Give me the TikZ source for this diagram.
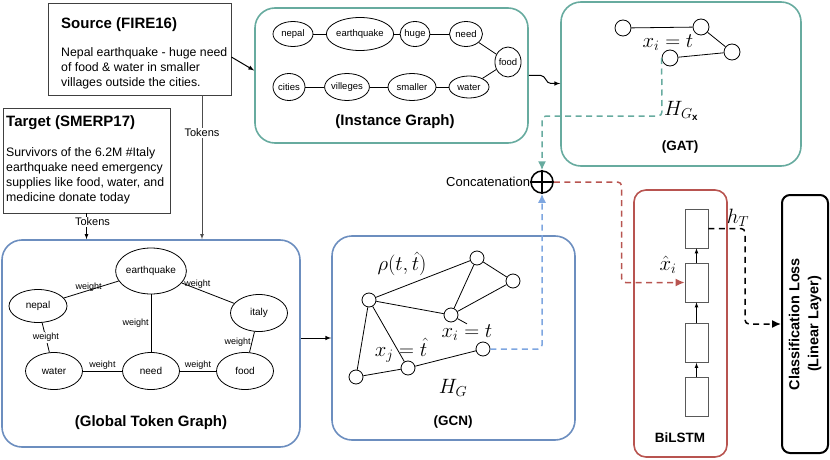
\documentclass[tikz,border=0pt]{standalone}
\usepackage{fontspec}
\setmainfont{Liberation Sans}
\usetikzlibrary{shapes.geometric,arrows.meta}
\definecolor{gatgreen}{HTML}{67AB9F}
\definecolor{gcnblue}{HTML}{6C8EBF}
\definecolor{lightblue}{HTML}{7EA6E0}
\definecolor{lstmred}{HTML}{B85450}
\newcommand{\fsz}[1]{\fontsize{#1}{1.2\dimexpr#1pt\relax}\selectfont}
\tikzset{
    panel/.style={draw,rounded corners=20pt,line width=1.6pt,inner sep=0},
    textbox/.style={draw=black!75,line width=0.8pt,inner sep=0},
    bodytext/.style={font=\fontsize{12.3}{15}\selectfont,align=left,inner sep=0,anchor=west},
    titletext/.style={font=\fsz{15}\bfseries,inner sep=0},
    subtitle/.style={font=\fsz{13.5}\bfseries,inner sep=0},
    tok/.style={ellipse,draw,inner sep=0,line width=0.8pt,font=\fsz{10}},
    inst/.style={ellipse,draw,inner sep=0,line width=0.8pt,font=\fsz{9.5}},
    gnode/.style={circle,draw,inner sep=0,minimum size=14pt,line width=0.8pt,fill=white},
    cell/.style={draw=black!65,line width=0.8pt,inner sep=0,minimum width=23pt,minimum height=39pt},
    wlabel/.style={font=\fsz{9},inner sep=1pt},
    mathlabel/.style={font=\fsz{19.5},inner sep=1pt},
    dashlink/.style={line width=1.5pt,dash pattern=on 6pt off 4.5pt,rounded corners=4pt,-{Latex[length=9pt,width=8pt]}},
}
\begin{document}
\begin{tikzpicture}[x=1pt,y=-1pt,>=latex]
    \useasboundingbox (0,0) rectangle (830,460);

    % input texts
    \node[textbox,minimum width=183pt,minimum height=92pt] (src) at (139.5,49) {};
    \node[titletext,anchor=west] (srctitle) at (61,25) {Source (FIRE16)};
    \node[bodytext] (srcbody) at (61,68) {Nepal earthquake - huge need\\of food \& water in smaller\\villages outside the cities.};
    \node[textbox,minimum width=167pt,minimum height=105pt] (tgt) at (86.5,160.5) {};
    \node[titletext,anchor=west] (tgttitle) at (6,123) {Target (SMERP17)};
    \node[bodytext] (tgtbody) at (6,175.5) {Survivors of the 6.2M \#Italy\\earthquake need emergency\\supplies like food, water, and\\medicine donate today};

    % panels
    \node[panel,draw=gatgreen,minimum width=273pt,minimum height=135pt] (inst) at (391.5,75.5) {};
    \node[panel,draw=gatgreen,minimum width=240pt,minimum height=164pt] (gat) at (681,84) {};
    \node[panel,draw=gcnblue,minimum width=298pt,minimum height=207pt] (glob) at (151,343.5) {};
    \node[panel,draw=gcnblue,minimum width=243pt,minimum height=204pt] (gcn) at (453.5,338) {};
    \node[panel,draw=lstmred,rounded corners=12pt,minimum width=93pt,minimum height=267pt] (lstm) at (680.5,323.5) {};
    \node[draw,line width=2pt,rounded corners=8pt,minimum width=46pt,minimum height=258pt] (cls) at (805,324) {};
    \node[rotate=90,align=center,font=\fontsize{14.5}{19}\selectfont\bfseries] (clstext) at (cls) {Classification Loss\\(Linear Layer)};

    % instance graph
    \node[inst,minimum width=40pt,minimum height=25pt] (inepal) at (293,34) {nepal};
    \node[inst,minimum width=55pt,minimum height=33pt] (iearthquake) at (360,34) {earthquake};
    \node[inst,minimum width=27pt,minimum height=25pt] (ihuge) at (415,34) {huge};
    \node[inst,minimum width=33pt,minimum height=25pt] (ineed) at (466,34) {need};
    \node[inst,minimum width=25pt,minimum height=30pt] (ifood) at (508,62) {food};
    \node[inst,minimum width=40pt,minimum height=22pt] (iwater) at (469,87) {water};
    \node[inst,minimum width=48pt,minimum height=27pt] (ismaller) at (412,87) {smaller};
    \node[inst,minimum width=40pt,minimum height=27pt] (ivilleges) at (347,87) {villeges};
    \node[inst,minimum width=32pt,minimum height=27pt] (icities) at (289,87) {cities};
    \foreach \a/\b in {nepal/earthquake,earthquake/huge,huge/need,need/food,food/water,water/smaller,smaller/villeges,villeges/cities}
        \draw[line width=0.8pt] (i\a) -- (i\b);
    \node[titletext] (insttitle) at (395,122) {(Instance Graph)};

    % global token graph
    \node[tok,minimum width=68pt,minimum height=46pt] (gearthquake) at (151,271) {earthquake};
    \node[tok,minimum width=58pt,minimum height=33pt] (gnepal) at (38,306) {nepal};
    \node[tok,minimum width=57pt,minimum height=37pt] (gitaly) at (259,313) {italy};
    \node[tok,minimum width=57pt,minimum height=37pt] (gwater) at (54,371) {water};
    \node[tok,minimum width=57pt,minimum height=37pt] (gneed) at (151,371) {need};
    \node[tok,minimum width=57pt,minimum height=37pt] (gfood) at (245,371) {food};
    \draw[line width=0.8pt] (gnepal) -- node[wlabel,pos=.45,above=-2pt] {weight} (gearthquake);
    \draw[line width=0.8pt] (gearthquake) -- node[wlabel,pos=.3,above=-1pt] {weight} (gitaly);
    \draw[line width=0.8pt] (gearthquake) -- node[wlabel,midway,left=1pt] {weight} (gneed);
    \draw[line width=0.8pt] (gnepal) -- node[wlabel,midway,fill=white] {weight} (gwater);
    \draw[line width=0.8pt] (gitaly) -- node[wlabel,midway,left=0pt] {weight} (gfood);
    \draw[line width=0.8pt] (gwater) -- node[wlabel,midway,above] {weight} (gneed);
    \draw[line width=0.8pt] (gneed) -- node[wlabel,midway,above] {weight} (gfood);
    \node[titletext] (globtitle) at (151,423) {(Global Token Graph)};

    % GCN
    \node[gnode] (ga) at (369,300) {};
    \node[gnode] (gb) at (477,258) {};
    \node[gnode] (gc) at (513,281) {};
    \node[gnode] (gd) at (451,315) {};
    \node[gnode] (ge) at (483,349) {};
    \node[gnode] (gf) at (408,368) {};
    \node[gnode] (gg) at (356,377) {};
    \node[mathlabel] (rho) at (402,264) {$\rho(t,\hat{t})$};
    \node[mathlabel] (xi) at (467,333) {$x_i=t$};
    \node[mathlabel] (xj) at (401,350) {$x_j=\hat{t}$};
    \foreach \a/\b in {ga/gb,ga/gd,ga/gg,ga/gf,gb/gd,gb/gc,gc/gd,gg/gf,gf/ge}
        \draw[line width=0.8pt] (\a) -- (\b);
    \draw[line width=0.8pt] (gd) -- (xi.north);
    \node[mathlabel] (hg) at (453,388) {$H_G$};
    \node[subtitle] (gcntitle) at (453,422) {(GCN)};

    % GAT
    \node[gnode,minimum size=16pt] (ap) at (623,28) {};
    \node[gnode,minimum size=16pt] (aq) at (701,27) {};
    \node[gnode,minimum size=16pt] (ar) at (732,52) {};
    \node[gnode,minimum size=16pt] (as) at (670,58) {};
    \draw[line width=0.8pt] (ap) -- (aq) -- (ar) -- (as);
    \node[mathlabel] (gxi) at (668,43) {$x_i=t$};
    \node[subtitle] (gattitle) at (680,147) {(GAT)};

    % BiLSTM
    \node[cell] (c1) at (696.5,228.5) {};
    \node[cell] (c2) at (696.5,282.5) {};
    \node[cell] (c3) at (696.5,343) {};
    \node[cell] (c4) at (696.5,397) {};
    \draw[->,line width=0.7pt] (c4) -- (c3);
    \draw[->,line width=0.7pt] (c3) -- (c2);
    \draw[->,line width=0.7pt] (c2) -- (c1);
    \node[mathlabel] (xhat) at (668,265) {$\hat{x}_i$};
    \node[subtitle] (lstmtitle) at (680,438) {BiLSTM};

    % concatenation
    \node[circle,draw,line width=1.5pt,minimum size=22pt,inner sep=0] (cat) at (542,182) {};
    \draw[line width=1.3pt] (cat.north) -- (cat.south) (cat.west) -- (cat.east);
    \node[anchor=east,inner sep=0,font=\fsz{13}] (catlabel) at (cat.west) {Concatenation};

    % connectors
    \draw[->,line width=1pt] ([yshift=-8pt]src.east) -- ([yshift=5pt]inst.west);
    \draw[->,line width=1pt] (inst.east) -- ++(12,0) to[out=0,in=180] ++(10,8) -- (gat.west |- 0,83.5);
    \draw[->,line width=0.8pt,black!70] ([xshift=62.5pt]src.south) -- node[pos=.26,fill=white,text=black,font=\fsz{11},inner sep=1pt] {Tokens} ([xshift=62.5pt]src.south |- glob.north);
    \draw[->,line width=0.8pt] (tgt.south) -- node[pos=.32,fill=white,xshift=6pt,font=\fsz{11},inner sep=1pt] {Tokens} (tgt.south |- glob.north);
    \draw[->,line width=1pt] (glob.east |- gcn.west) -- (gcn.west);
    \draw[dashlink,draw=lightblue] (ge.east) -| (cat.south);
    \coordinate (hgx) at (662,116);
    \draw[dashlink,draw=gatgreen] (as.west) -- (hgx) -| (cat.north);
    \node[mathlabel,anchor=west] (hgxlabel) at (663,111) {$H_{G_{\mathbf{x}}}$};
    \draw[dashlink,draw=lstmred] (cat.east) -| ([xshift=-63pt]c2.west) -- (c2.west);
    \draw[dashlink] (c1.east) -| ([xshift=-36pt]cls.west) -- (cls.west);
    \node[mathlabel] (ht) at (738,218) {$h_T$};
\end{tikzpicture}
\end{document}
